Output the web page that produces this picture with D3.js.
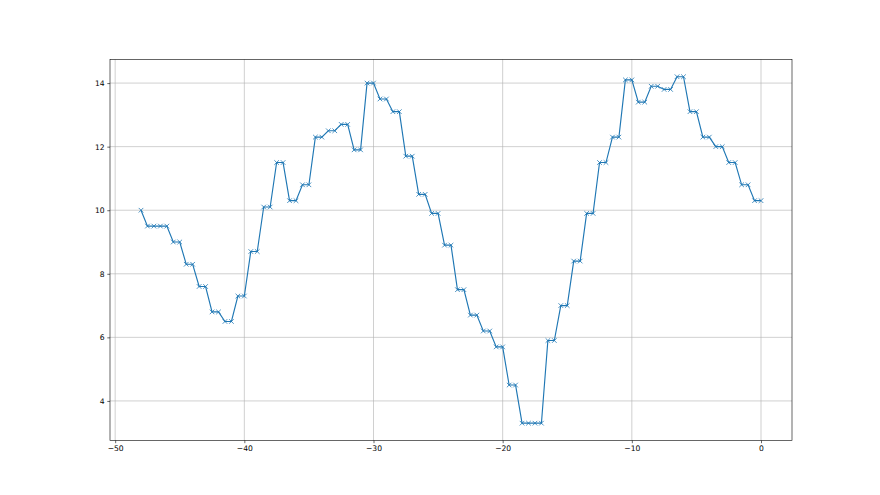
<!DOCTYPE html>
<html>
<head>
<meta charset="utf-8">
<script src="https://cdn.jsdelivr.net/npm/d3@7"></script>
<style>
  body { margin: 0; background: #fff; }
  svg { display: block; }
  .tick text { font-family: "DejaVu Sans", sans-serif; font-size: 7.6px; fill: #000; }
</style>
</head>
<body>
<div id="chart"></div>
<script>
// x positions go in half steps from -48 to 0
const xValues = d3.range(-48, 0.01, 0.5);
const yValues = [
  10.0,
  9.5, 9.5, 9.5, 9.5, 9.0, 9.0, 8.3, 8.3, 7.6, 7.6, 6.8, 6.8, 6.5, 6.5,
  7.3, 7.3, 8.7, 8.7, 10.1, 10.1, 11.5, 11.5, 10.3, 10.3, 10.8, 10.8,
  12.3, 12.3, 12.5, 12.5, 12.7, 12.7, 11.9, 11.9, 14.0, 14.0, 13.5, 13.5,
  13.1, 13.1, 11.7, 11.7, 10.5, 10.5, 9.9, 9.9, 8.9, 8.9, 7.5, 7.5,
  6.7, 6.7, 6.2, 6.2, 5.7, 5.7, 4.5, 4.5, 3.3, 3.3, 3.3, 3.3,
  5.9, 5.9, 7.0, 7.0, 8.4, 8.4, 9.9, 9.9, 11.5, 11.5, 12.3, 12.3,
  14.1, 14.1, 13.4, 13.4, 13.9, 13.9, 13.8, 13.8, 14.2, 14.2,
  13.1, 13.1, 12.3, 12.3, 12.0, 12.0, 11.5, 11.5, 10.8, 10.8, 10.3, 10.3
];
const xTicks = [-50, -40, -30, -20, -10, 0];
const yTicks = [4, 6, 8, 10, 12, 14];

const W = 880, H = 495;
const margin = { top: 59.4, right: 88, bottom: 54.5, left: 110 };
const width = W - margin.left - margin.right,
  height = H - margin.top - margin.bottom;

const data = xValues.map((x, i) => ({ x: x, y: yValues[i] }));

const svg = d3.select("#chart").append("svg")
  .attr("width", W).attr("height", H);
const g = svg.append("g")
  .attr("transform", "translate(" + margin.left + "," + margin.top + ")");

// matplotlib style 5% padding
const xExt = d3.extent(xValues), yExt = d3.extent(yValues);
const xPad = (xExt[1] - xExt[0]) * 0.05, yPad = (yExt[1] - yExt[0]) * 0.05;
const x = d3.scaleLinear().domain([xExt[0] - xPad, xExt[1] + xPad]).range([0, width]);
const y = d3.scaleLinear().domain([yExt[0] - yPad, yExt[1] + yPad]).range([height, 0]);

// grid
g.append("g").selectAll("line").data(xTicks).enter().append("line")
  .attr("x1", d => x(d)).attr("x2", d => x(d))
  .attr("y1", 0).attr("y2", height)
  .attr("stroke", "#b0b0b0").attr("stroke-width", 0.6);
g.append("g").selectAll("line").data(yTicks).enter().append("line")
  .attr("y1", d => y(d)).attr("y2", d => y(d))
  .attr("x1", 0).attr("x2", width)
  .attr("stroke", "#b0b0b0").attr("stroke-width", 0.6);

// line
const line = d3.line().x(d => x(d.x)).y(d => y(d.y));
g.append("path").datum(data)
  .attr("d", line)
  .attr("fill", "none")
  .attr("stroke", "#1f77b4")
  .attr("stroke-width", 1.15);

// x markers
const m = 2.3;
g.append("g").selectAll("path").data(data).enter().append("path")
  .attr("d", d => {
    const px = x(d.x), py = y(d.y);
    return "M" + (px - m) + "," + (py - m) + "L" + (px + m) + "," + (py + m) +
      "M" + (px - m) + "," + (py + m) + "L" + (px + m) + "," + (py - m);
  })
  .attr("stroke", "#1f77b4")
  .attr("stroke-width", 0.8)
  .attr("fill", "none");

// axes
const xAxis = g.append("g")
  .attr("transform", "translate(0," + height + ")")
  .call(d3.axisBottom(x).tickValues(xTicks).tickSize(2.7).tickPadding(2.7).tickFormat(d => d < 0 ? "\u2212" + Math.abs(d) : d));
const yAxis = g.append("g")
  .call(d3.axisLeft(y).tickValues(yTicks).tickSize(2.7).tickPadding(2.7));
[xAxis, yAxis].forEach(a => {
  a.select(".domain").remove();
  a.selectAll(".tick line").attr("stroke", "#000").attr("stroke-width", 0.6);
});

// spines
g.append("rect")
  .attr("x", 0).attr("y", 0).attr("width", width).attr("height", height)
  .attr("fill", "none").attr("stroke", "#000").attr("stroke-width", 0.6);
</script>
</body>
</html>
